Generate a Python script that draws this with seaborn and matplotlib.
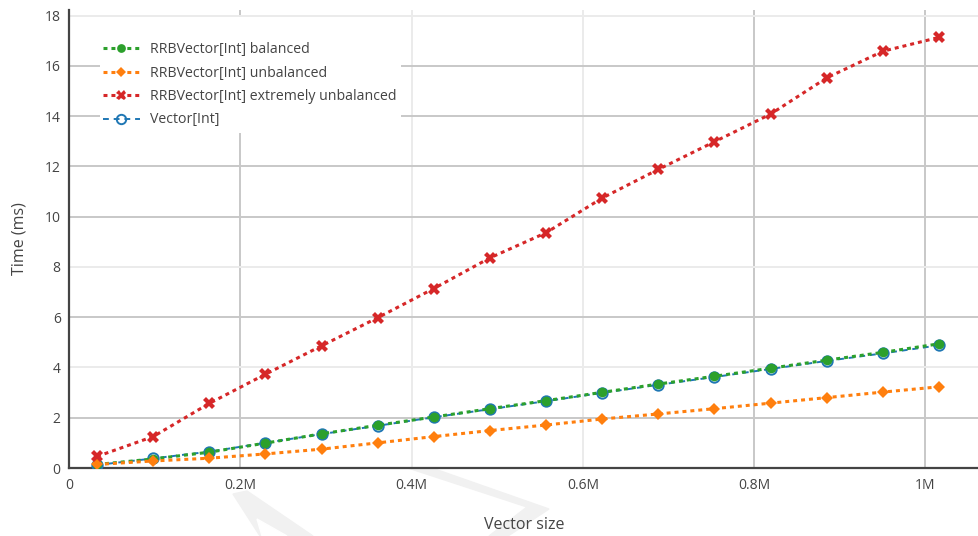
import pandas as pd
import seaborn as sns
import matplotlib.pyplot as plt
from matplotlib.patches import Polygon, Rectangle

# vector sizes (x) and timings in ms
sizes = [32768, 98304, 163840, 229376, 294912, 360448, 425984, 491520,
         557056, 622592, 688128, 753664, 819200, 884736, 950272, 1015808]
balanced = [0.14, 0.36, 0.63, 0.99, 1.36, 1.70, 2.03, 2.36,
            2.68, 3.01, 3.34, 3.65, 3.97, 4.29, 4.60, 4.94]
unbalanced = [0.14, 0.28, 0.39, 0.56, 0.75, 1.00, 1.25, 1.49,
              1.71, 1.95, 2.15, 2.36, 2.58, 2.80, 3.02, 3.23]
extreme = [0.46, 1.25, 2.57, 3.73, 4.86, 5.98, 7.14, 8.36,
           9.36, 10.74, 11.88, 12.98, 14.08, 15.52, 16.58, 17.13]
vector = [0.12, 0.38, 0.65, 1.00, 1.35, 1.68, 2.02, 2.34,
          2.66, 2.99, 3.31, 3.62, 3.94, 4.26, 4.56, 4.88]

labels = ["RRBVector[Int] balanced", "RRBVector[Int] unbalanced",
          "RRBVector[Int] extremely unbalanced", "Vector[Int]"]
xticks = [0, 200000, 400000, 600000, 800000, 1000000]
xticklabels = ["0", "0.2M", "0.4M", "0.6M", "0.8M", "1M"]
yticks = [0, 2, 4, 6, 8, 10, 12, 14, 16, 18]

sns.set_style("white")
plt.rcParams["font.family"] = ["Open Sans", "DejaVu Sans"]
txt = "#444444"

W, H = 979, 536
L, T, B = 69, 10, 468
fig = plt.figure(figsize=(W / 100, H / 100), dpi=100)
ax = fig.add_axes([L / W, 1 - B / H, (W - L) / W, (B - T) / H])
ax.set_zorder(1)


def fp(pts):
    return [(x / W, 1 - y / H) for x, y in pts]


def ap(x, y):
    # pixel -> axes fraction
    return (x - L) / (W - L), (B - y) / (B - T)


# faint watermark behind the plot area
wm = "#f1f1f1"
fig.add_artist(Polygon(fp([(233, 494), (247, 491), (313, 536), (260, 536)]),
                       closed=True, color=wm, transform=fig.transFigure, zorder=-5))
fig.add_artist(Polygon(fp([(257, 519), (262, 536), (287, 536)]),
                       closed=True, color="white", transform=fig.transFigure, zorder=-4))
fig.add_artist(Polygon(fp([(408, 468), (432, 468), (549, 509), (508, 536), (489, 536), (527, 507)]),
                       closed=True, color=wm, transform=fig.transFigure, zorder=-5))

dot = (0, (1.3, 1.3))
sns.lineplot(x=sizes, y=vector, ax=ax, label=labels[3], color="#1f77b4",
             lw=1.4, linestyle=(0, (3, 2.5)), marker="o", markersize=7.5,
             markerfacecolor="none", markeredgecolor="#1f77b4", markeredgewidth=1.4,
             zorder=3)
sns.lineplot(x=sizes, y=balanced, ax=ax, label=labels[0], color="#2ca02c",
             lw=2.2, linestyle=dot, marker="o", markersize=7,
             markeredgewidth=0, zorder=4)
sns.lineplot(x=sizes, y=unbalanced, ax=ax, label=labels[1], color="#ff7f0e",
             lw=2.2, linestyle=dot, marker="D", markersize=6,
             markeredgewidth=0, zorder=4)
sns.lineplot(x=sizes, y=extreme, ax=ax, label=labels[2], color="#d62728",
             lw=2.2, linestyle=dot, marker="X", markersize=8,
             markeredgewidth=0, zorder=4)

ax.set_xlim(0, 1062500)
ax.set_ylim(0, 18.22)
ax.set_xticks(xticks)
ax.set_xticklabels(xticklabels)
ax.set_yticks(yticks)
ax.tick_params(length=0, labelsize=10, colors=txt)
ax.tick_params(axis="y", pad=6)
ax.tick_params(axis="x", pad=7)

ax.grid(True, lw=1.4, color="#ebebeb")
dark = "#c8c8c8"
for v, gl in zip(yticks, ax.get_ygridlines()):
    if v in (2, 6, 10, 12, 14, 16):
        gl.set_color(dark)
for v, gl in zip(xticks, ax.get_xgridlines()):
    if v in (200000, 800000, 1000000):
        gl.set_color(dark)
ax.set_axisbelow(True)

for s in ["top", "right"]:
    ax.spines[s].set_visible(False)
for s in ["left", "bottom"]:
    ax.spines[s].set_color(txt)
    ax.spines[s].set_linewidth(1.6)

ax.set_xlabel("Vector size", fontsize=11.5, color=txt)
ax.set_ylabel("Time (ms)", fontsize=11.5, color=txt)
ax.xaxis.set_label_coords(*ap(524, 517))
ax.yaxis.set_label_coords(*ap(28, 239))

# white legend background box
x0, y0 = ap(100, 133)
x1, y1 = ap(401, 17)
ax.add_patch(Rectangle((x0, y0), x1 - x0, y1 - y0, transform=ax.transAxes,
                       facecolor="white", edgecolor="none", zorder=1.5))

h, l = ax.get_legend_handles_labels()
hd = dict(zip(l, h))
leg = ax.legend([hd[x] for x in labels], labels, loc="upper left",
                bbox_to_anchor=ap(103, 42), fontsize=10.2, frameon=False,
                borderpad=0, labelspacing=0.6, handlelength=2.6,
                handletextpad=0.7, borderaxespad=0, markerscale=0.9)
for t in leg.get_texts():
    t.set_color(txt)

fig.savefig("out.png", dpi=100)
